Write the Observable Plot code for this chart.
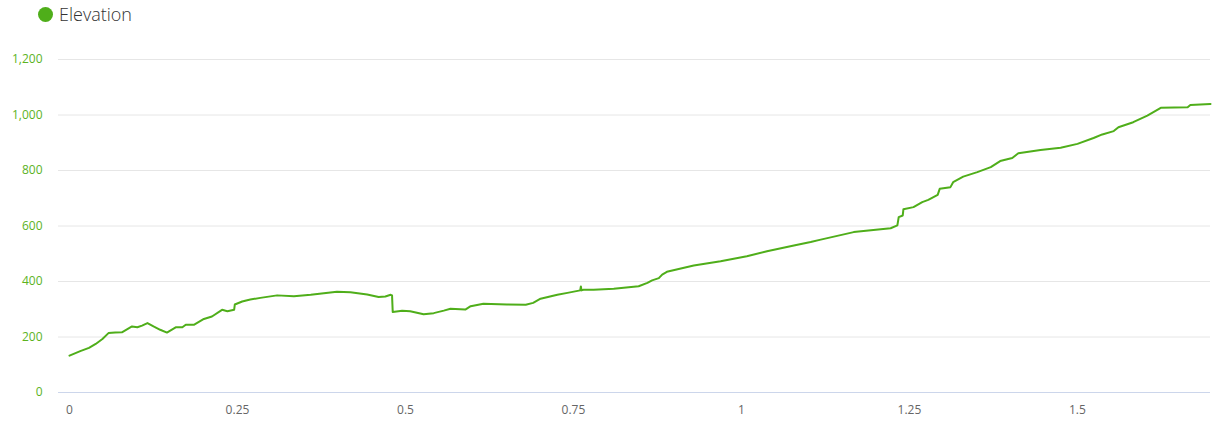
<!DOCTYPE html>
<html>
<head>
<meta charset="utf-8">
<script src="https://cdn.jsdelivr.net/npm/d3@7"></script>
<script src="https://cdn.jsdelivr.net/npm/@observablehq/plot@0.6"></script>
<style>
  body { margin: 0; background: #fff; font-family: "Open Sans", "Noto Sans", sans-serif; }
  #legend { height: 30px; position: relative; }
  #legend .dot { position: absolute; left: 38px; top: 7px; width: 15px; height: 15px; border-radius: 50%; background: #4fae1a; }
  #legend .lab { position: absolute; left: 59px; top: 2px; font-size: 18px; font-weight: 300; color: #333; }
</style>
</head>
<body>
<div id="legend"><span class="dot"></span><span class="lab">Elevation</span></div>
<div id="chart"></div>
<script>
const distance = [0, 0.016, 0.029, 0.039, 0.049, 0.058, 0.068, 0.078, 0.093, 0.101, 0.108, 0.116, 0.125, 0.135, 0.145, 0.158, 0.168, 0.173, 0.185, 0.200, 0.212, 0.227, 0.235, 0.245, 0.246, 0.257, 0.269, 0.284, 0.309, 0.334, 0.359, 0.398, 0.418, 0.443, 0.460, 0.470, 0.478, 0.480, 0.481, 0.495, 0.507, 0.527, 0.542, 0.557, 0.567, 0.589, 0.597, 0.616, 0.651, 0.679, 0.690, 0.701, 0.726, 0.741, 0.760, 0.761, 0.762, 0.765, 0.780, 0.810, 0.847, 0.860, 0.867, 0.877, 0.882, 0.889, 0.929, 0.969, 1.008, 1.038, 1.078, 1.103, 1.118, 1.167, 1.222, 1.232, 1.234, 1.240, 1.241, 1.256, 1.269, 1.278, 1.292, 1.295, 1.311, 1.315, 1.330, 1.351, 1.371, 1.385, 1.403, 1.412, 1.445, 1.475, 1.500, 1.524, 1.537, 1.554, 1.561, 1.583, 1.604, 1.624, 1.664, 1.668, 1.698];
const elevation = [133, 149, 161, 175, 193, 214, 216, 217, 238, 235, 241, 250, 238, 226, 216, 235, 235, 244, 244, 265, 274, 298, 293, 298, 317, 328, 335, 341, 350, 347, 352, 363, 361, 353, 344, 346, 352, 350, 290, 295, 293, 282, 286, 295, 302, 299, 311, 320, 317, 316, 323, 338, 352, 359, 368, 382, 368, 370, 370, 374, 383, 395, 404, 412, 425, 435, 458, 473, 491, 509, 530, 542, 551, 578, 592, 602, 632, 638, 660, 668, 686, 694, 712, 734, 740, 758, 778, 794, 812, 834, 845, 862, 874, 882, 896, 917, 930, 942, 956, 974, 998, 1026, 1028, 1036, 1040];
const xTicks = [0, 0.25, 0.5, 0.75, 1, 1.25, 1.5];
const yTicks = [0, 200, 400, 600, 800, 1000, 1200];

const rows = distance.map((d, i) => ({distance: d, elevation: elevation[i]}));

const chart = Plot.plot({
  width: 1213,
  height: 394,
  marginLeft: 58,
  marginRight: 3,
  marginTop: 29,
  marginBottom: 32,
  style: {fontFamily: "'Open Sans', 'Noto Sans', sans-serif", fontSize: "12px", background: "#fff"},
  x: {domain: [0, 1.698], insetLeft: 11, ticks: xTicks, tickFormat: d => String(d)},
  y: {domain: [0, 1200], ticks: yTicks, tickFormat: d3.format(",")},
  marks: [
    Plot.ruleY(yTicks.filter(d => d > 0), {stroke: "#e6e6e6", strokeWidth: 1}),
    Plot.ruleY([0], {stroke: "#ccd6eb", strokeWidth: 1}),
    Plot.axisX({ticks: xTicks, tickSize: 0, tickPadding: 13, tickFormat: d => String(d), fill: "#666", label: null, fontSize: 12}),
    Plot.axisY({ticks: yTicks, tickSize: 0, tickPadding: 16, tickFormat: d3.format(","), fill: "#5cb31f", label: null, fontSize: 12}),
    Plot.line(rows, {x: "distance", y: "elevation", stroke: "#4fae1a", strokeWidth: 2, curve: "linear"})
  ]
});
document.getElementById("chart").appendChild(chart);
</script>
</body>
</html>
